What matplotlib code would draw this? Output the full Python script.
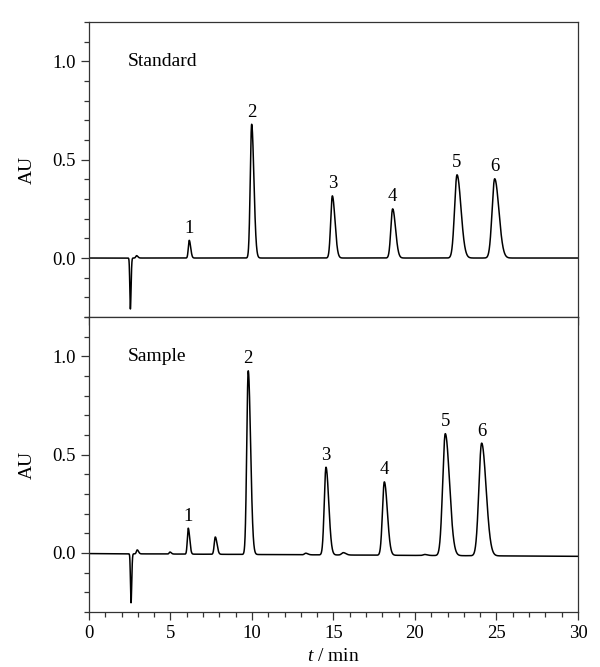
import numpy as np
import matplotlib
matplotlib.use("Agg")
import matplotlib.pyplot as plt
from matplotlib.ticker import MultipleLocator

# ---- data (peak parameters) ----
std_times   = [2.54, 2.92, 6.15, 9.98, 14.93, 18.63, 22.58, 24.89]
std_heights = [-0.259, 0.012, 0.090, 0.680, 0.316, 0.250, 0.423, 0.403]
std_sigmas  = [0.035, 0.05, 0.055, 0.085, 0.10, 0.11, 0.15, 0.16]
std_labels  = ["", "", "1", "2", "3", "4", "5", "6"]

smp_times   = [2.58, 2.96, 4.97, 6.09, 7.75, 9.77, 13.3, 14.54, 15.6, 18.12, 20.6, 21.86, 24.09]
smp_heights = [-0.249, 0.020, 0.010, 0.132, 0.088, 0.934, 0.008, 0.446, 0.012, 0.373, 0.005, 0.620, 0.573]
smp_sigmas  = [0.035, 0.05, 0.05, 0.055, 0.065, 0.09, 0.08, 0.105, 0.10, 0.115, 0.10, 0.16, 0.17]
smp_labels  = ["", "", "", "1", "", "2", "", "3", "", "4", "", "5", "6"]
smp_drift   = [-0.003, -0.017]   # baseline at t=0 and t=30

panel_titles = ["Standard", "Sample"]
x_range = [0, 30]
y_range = [-0.3, 1.2]

t = np.linspace(0, 30, 6001)


def trace(times, heights, sigmas, tail=1.6):
    y = np.zeros_like(t)
    for tc, h, s in zip(times, heights, sigmas):
        sr = s * tail if h > 0 else s * 1.2
        sig = np.where(t < tc, s, sr)
        y += h * np.exp(-0.5 * ((t - tc) / sig) ** 2)
    return y


y_std = trace(std_times, std_heights, std_sigmas)
y_smp = trace(smp_times, smp_heights, smp_sigmas) + np.interp(t, x_range, smp_drift)

plt.rcParams['font.family'] = ['Liberation Serif', 'DejaVu Serif']
plt.rcParams['mathtext.fontset'] = 'custom'
plt.rcParams['mathtext.it'] = 'Liberation Serif:italic'
plt.rcParams['mathtext.rm'] = 'Liberation Serif'

fig = plt.figure(figsize=(6.0, 6.67), dpi=100)
left, right = 0.1483, 0.9633
ax1 = fig.add_axes([left, 0.5247, right - left, 0.967 - 0.5247])
ax2 = fig.add_axes([left, 0.0825, right - left, 0.5247 - 0.0825], sharex=ax1)

data = [(ax1, y_std, std_times, std_heights, std_labels),
        (ax2, y_smp, smp_times, smp_heights, smp_labels)]

for i, (ax, y, times, heights, labels) in enumerate(data):
    ax.plot(t, y, color='black', lw=1.1)
    for tc, lab in zip(times, labels):
        if lab:
            yp = np.interp(tc, t, y)
            ax.annotate(lab, (tc, yp), xytext=(0, 2.5), textcoords='offset points',
                        ha='center', va='bottom', fontsize=13.5)
    ax.text(2.37, 1.0, panel_titles[i], ha='left', va='center', fontsize=14)
    ax.set_xlim(*x_range)
    ax.set_ylim(*y_range)
    ax.yaxis.set_minor_locator(MultipleLocator(0.1))
    ax.xaxis.set_major_locator(MultipleLocator(5))
    ax.xaxis.set_minor_locator(MultipleLocator(1))
    ax.set_yticks([0.0, 0.5, 1.0])
    ax.set_yticklabels(["0.0", "0.5", "1.0"])
    ax.tick_params(which='both', direction='out', top=False, right=False,
                   labelsize=13.5, width=0.9, color='#333333')
    ax.tick_params(which='major', length=6)
    ax.tick_params(which='minor', length=3.5)
    for sp in ax.spines.values():
        sp.set_linewidth(0.9)
        sp.set_color('#333333')
    ax.set_ylabel("AU", fontsize=14, labelpad=12)

ax1.tick_params(axis='x', labelbottom=False)
ax2.set_xlabel(r"$t$ / min", fontsize=14, labelpad=4)

fig.savefig("out.png", dpi=100)
